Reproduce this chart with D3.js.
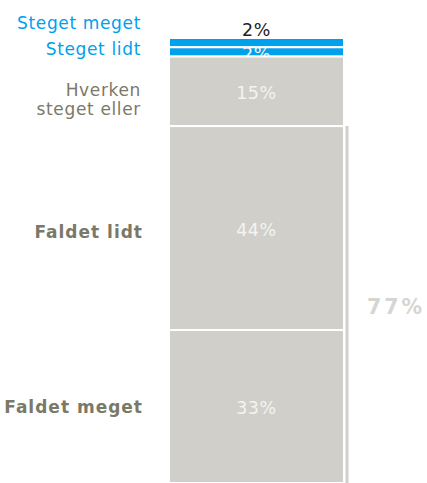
<!DOCTYPE html>
<html>
<head>
<meta charset="utf-8">
<script src="https://cdn.jsdelivr.net/npm/d3@7"></script>
<style>
  body { margin: 0; background: #fff; }
  svg { display: block; font-family: 'DejaVu Sans', Verdana, sans-serif; }
</style>
</head>
<body>
<div id="chart"></div>
<script>
// answers, top to bottom
const categories = ['Steget meget', 'Steget lidt', 'Hverken steget eller', 'Faldet lidt', 'Faldet meget']
const labelLines = [['Steget meget'], ['Steget lidt'], ['Hverken', 'steget eller'], ['Faldet lidt'], ['Faldet meget']]
const values = [2, 2, 15, 44, 33]
const valueLabels = ['2%', '2%', '15%', '44%', '33%']
const bracketFrom = 'Faldet lidt'
const bracketLabel = '77%'

const width = 427
const height = 483

const blue = '#00a0ec'
const grey = '#d0cfca'
const labelGrey = '#7a7968'

let svg = d3
  .select('#chart')
  .append('svg')
  .attr('width', width)
  .attr('height', height)

// stack the segments
let acc = 0
const segs = categories.map((c, i) => {
  const s = { key: c, value: values[i], y0: acc, y1: acc + values[i], i: i }
  acc += values[i]
  return s
})

const yScale = d3.scaleLinear().domain([0, d3.sum(values)]).range([38, height])
const xScale = d3.scaleBand().domain(['bar']).range([169, 344]).padding(0)

const colorFor = d => (d.i < 2 ? blue : grey)
const mid = d => (yScale(d.y0) + yScale(d.y1)) / 2

// each segment gets its rect + value label, so the next rect covers overflow
let segG = svg
  .selectAll('.seg')
  .data(segs)
  .enter()
  .append('g')
  .attr('class', 'seg')

segG
  .append('rect')
  .attr('x', xScale('bar'))
  .attr('width', xScale.bandwidth())
  .attr('y', d => yScale(d.y0))
  .attr('height', d => yScale(d.y1) - yScale(d.y0))
  .attr('fill', colorFor)
  .attr('stroke', '#fff')
  .attr('stroke-width', 2)

segG
  .append('text')
  .attr('x', xScale('bar') + xScale.bandwidth() / 2)
  .attr('y', d => (d.i === 0 ? yScale(d.y0) - 8.5 : mid(d) + 1.5))
  .attr('dy', '0.35em')
  .attr('text-anchor', 'middle')
  .attr('font-size', 17.5)
  .attr('letter-spacing', 0.6)
  .attr('fill', d => (d.i === 0 ? '#222' : '#f4f4f2'))
  .text(d => valueLabels[d.i])

// category labels
const labelOffset = [-19.5, -3, 8, 4, 1]
svg
  .selectAll('.cat')
  .data(segs)
  .enter()
  .append('text')
  .attr('class', 'cat')
  .attr('text-anchor', 'end')
  .attr('font-size', 17)
  .attr('font-weight', d => (d.i > 2 ? 'bold' : 'normal'))
  .attr('letter-spacing', d => (d.i > 2 ? 1 : 0.65))
  .attr('fill', d => (d.i < 2 ? blue : labelGrey))
  .each(function (d) {
    const lines = labelLines[d.i]
    const cy = mid(d) + labelOffset[d.i]
    const lh = 19
    d3.select(this)
      .selectAll('tspan')
      .data(lines)
      .enter()
      .append('tspan')
      .attr('x', d.i > 2 ? 143 : 141)
      .attr('y', (l, j) => cy + (j - (lines.length - 1) / 2) * lh)
      .attr('dy', '0.35em')
      .text(l => l)
  })

// bracket for the "faldet" share
const first = segs.find(d => d.key === bracketFrom)
const bTop = yScale(first.y0)
const bBottom = yScale(d3.sum(values))

svg
  .append('line')
  .attr('x1', 347)
  .attr('x2', 347)
  .attr('y1', bTop)
  .attr('y2', bBottom)
  .attr('stroke', grey)
  .attr('stroke-width', 3)

svg
  .append('text')
  .attr('x', 367)
  .attr('y', (bTop + bBottom) / 2 + 2)
  .attr('dy', '0.35em')
  .attr('font-size', 20.5)
  .attr('font-weight', 'bold')
  .attr('letter-spacing', 3)
  .attr('fill', '#d6d5d1')
  .text(bracketLabel)
</script>
</body>
</html>
